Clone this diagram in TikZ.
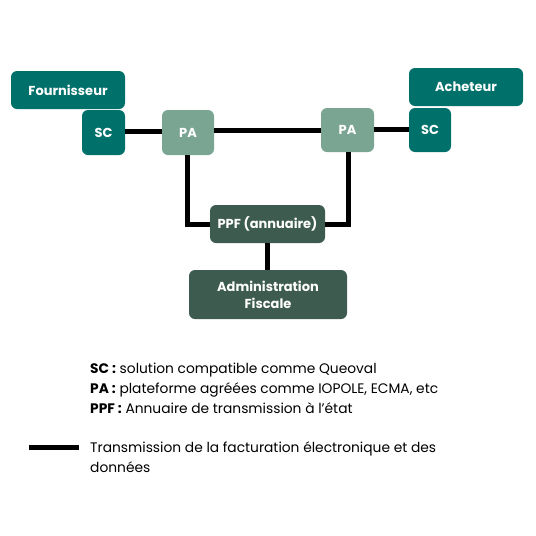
\documentclass[tikz,border=0pt]{standalone}
\usepackage{fontspec}
\setmainfont{Poppins}
\definecolor{teal1}{HTML}{00706A}
\definecolor{pagreen}{HTML}{7BA593}
\definecolor{dkgreen}{HTML}{3E5B4F}
\begin{document}
\begin{tikzpicture}[x=1pt,y=-1pt,
  lbl/.style={text=white,font=\bfseries\fontsize{13}{17}\selectfont,align=center},
  link/.style={line width=5pt,black},
  legend/.style={anchor=base west,font=\fontsize{13.8}{20}\selectfont,inner sep=0pt}]
\useasboundingbox[fill=white] (0,0) rectangle (536,536);
% boxes
\fill[teal1,rounded corners=6pt] (11,71) rectangle (125,109);
\node[lbl] (four) at (68,90) {Fournisseur};
\fill[teal1,rounded corners=6pt] (82,110) rectangle (125,155);
\node[lbl] (scl) at (103.5,132.5) {SC};
\fill[pagreen,rounded corners=6pt] (162,110) rectangle (214,155);
\node[lbl] (pal) at (188,132.5) {PA};
\fill[pagreen,rounded corners=6pt] (321,108) rectangle (374,152);
\node[lbl] (par) at (347.5,130) {PA};
\fill[teal1,rounded corners=6pt] (409,108) rectangle (451,152);
\node[lbl] (scr) at (430,130) {SC};
\fill[teal1,rounded corners=6pt] (409,68) rectangle (523,106);
\node[lbl] (ach) at (466,87) {Acheteur};
\fill[dkgreen,rounded corners=6pt] (210,205) rectangle (325,243);
\node[lbl] (ppf) at (267.5,224) {PPF (annuaire)};
\fill[dkgreen,rounded corners=6pt] (189,270) rectangle (347,319);
\node[lbl] (adm) at (268,294.5) {Administration\\Fiscale};
% anchor coordinates
\coordinate (sclE) at (125,131);
\coordinate (palW) at (162,131);
\coordinate (palE) at (214,130);
\coordinate (parW) at (321,130);
\coordinate (parE) at (374,129);
\coordinate (scrW) at (409,129);
\coordinate (palS) at (187,155);
\coordinate (parS) at (348,152);
\coordinate (ppfW) at (210,224);
\coordinate (ppfE) at (325,224);
\coordinate (ppfS) at (267,243);
\coordinate (admN) at (267,270);
\draw[link] (sclE) -- (palW);
\draw[link] (palE) -- (parW);
\draw[link] (parE) -- (scrW);
\draw[link] (palS) |- (ppfW);
\draw[link] (parS) |- (ppfE);
\draw[link] (ppfS) -- (admN);
% legend
\node[legend] (l1) at (90,373) {\textbf{SC :} solution compatible comme Queoval};
\node[legend] (l2) at (90,393) {\textbf{PA :} plateforme agréées comme IOPOLE, ECMA, etc};
\node[legend] (l3) at (90,413) {\textbf{PPF :} Annuaire de transmission à l’état};
\coordinate (la) at (29,447);
\coordinate (lb) at (79,447);
\draw[link] (la) -- (lb);
\node[legend,align=left] (l4) at (90,472) {Transmission de la facturation électronique et des\\données};
\end{tikzpicture}
\end{document}
